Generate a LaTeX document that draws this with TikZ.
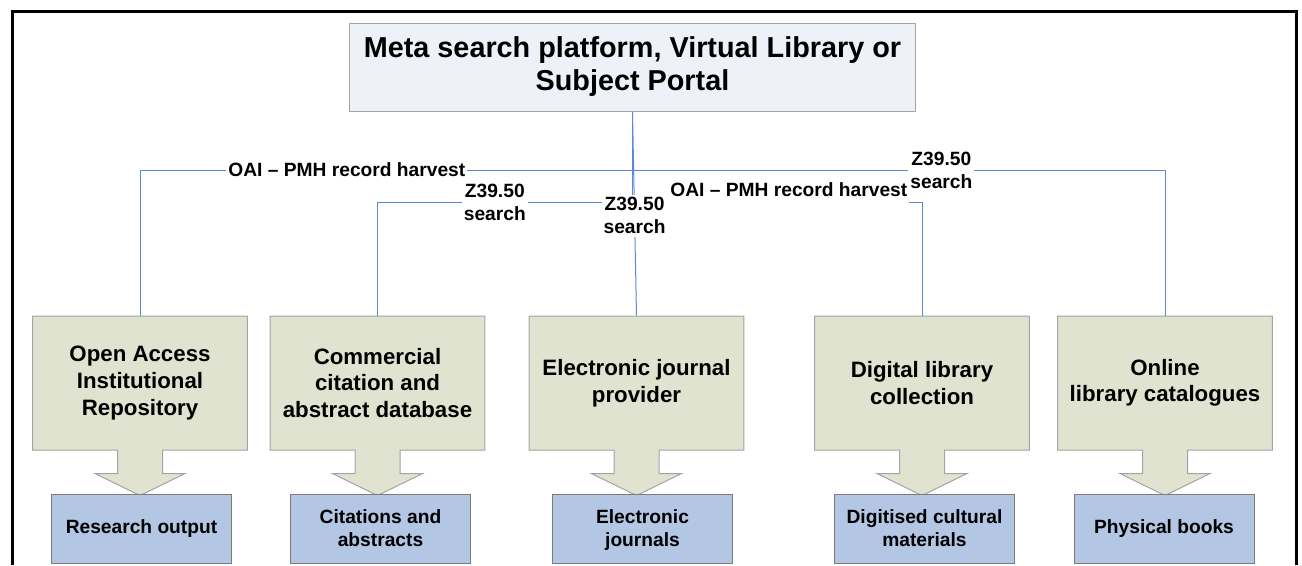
\documentclass[tikz,border=0pt]{standalone}
\usepackage{fontspec}
\setmainfont{Liberation Sans}
\usepackage{tikz}
\usetikzlibrary{shapes.arrows}

\definecolor{portalfill}{HTML}{EEF1F8}
\definecolor{sourcefill}{HTML}{E0E3D0}
\definecolor{outputfill}{HTML}{B3C7E5}
\definecolor{linkblue}{HTML}{5A8AD6}
\definecolor{edgegray}{HTML}{A4A4A4}

\begin{document}
\begin{tikzpicture}[x=0.75pt, y=-0.75pt,
            portal/.style={draw=edgegray, fill=portalfill, line width=0.75pt,
                minimum width=425pt, minimum height=66pt, align=center,
                font=\fontsize{21.6}{24.75}\selectfont\bfseries},
            source/.style={arrow box, draw=edgegray, fill=sourcefill, line width=0.75pt,
                minimum width=161pt, minimum height=100.5pt,
                arrow box arrows={south:33.75pt}, arrow box shaft width=33.75pt,
                arrow box head extend=16.9pt, arrow box tip angle=128, align=center,
                font=\fontsize{16.7}{19.9}\selectfont\bfseries},
            output/.style={draw=edgegray!75!black, fill=outputfill, line width=0.75pt,
                minimum width=135pt, minimum height=51.75pt, align=center,
                font=\fontsize{14.4}{17.25}\selectfont\bfseries},
            link/.style={draw=linkblue, line width=0.75pt},
            lab/.style={fill=white, inner xsep=1.5pt, inner ysep=2pt, align=center,
                font=\fontsize{14.4}{17.25}\selectfont\bfseries}]
            \useasboundingbox (0,0) rectangle (1302,565);
            \draw[line width=2.25pt] (12,565) -- (12,11) -- (1296,11) -- (1296,565);

            \node[portal] (portal) at (632.5,67) {Meta search platform, Virtual Library or\\Subject Portal};

            \node[source] (oar) at (140,383) {Open Access\\Institutional\\Repository};
            \node[source] (cad) at (377.5,383) {Commercial\\citation and\\abstract database};
            \node[source] (ejp) at (636.5,383) {Electronic journal\\provider};
            \node[source] (dlc) at (922,383) {Digital library\\collection};
            \node[source] (olc) at (1165,383) {Online\\library catalogues};

            \node[output] (res) at (141.5,528.5) {Research output};
            \node[output] (cit) at (380.5,528.5) {Citations and\\abstracts};
            \node[output] (ejn) at (642.5,528.5) {\strut Electronic\\journals};
            \node[output] (dcm) at (924.5,528.5) {Digitised cultural\\materials};
            \node[output] (phb) at (1164,528.5) {Physical books};

            \coordinate (busA) at (632.5,170);
            \coordinate (busB) at (632.5,202);

            \draw[link] (portal.south) -- (busA) -| node[lab, pos=.29] {OAI -- PMH record harvest} (oar.north);
            \draw[link] (busA) -| node[lab, pos=.29] {Z39.50\\search} (olc.north);
            \draw[link] (busA) -- (busB) -| node[lab, pos=.27] {Z39.50\\search} (cad.north);
            \draw[link] (busB) -| node[lab, pos=.27, inner ysep=5pt, yshift=9pt] {OAI -- PMH record harvest} (dlc.north);
            \draw[link] (portal.south) -- node[lab, pos=.51] {Z39.50\\search} (ejp.north);
        \end{tikzpicture}
\end{document}
